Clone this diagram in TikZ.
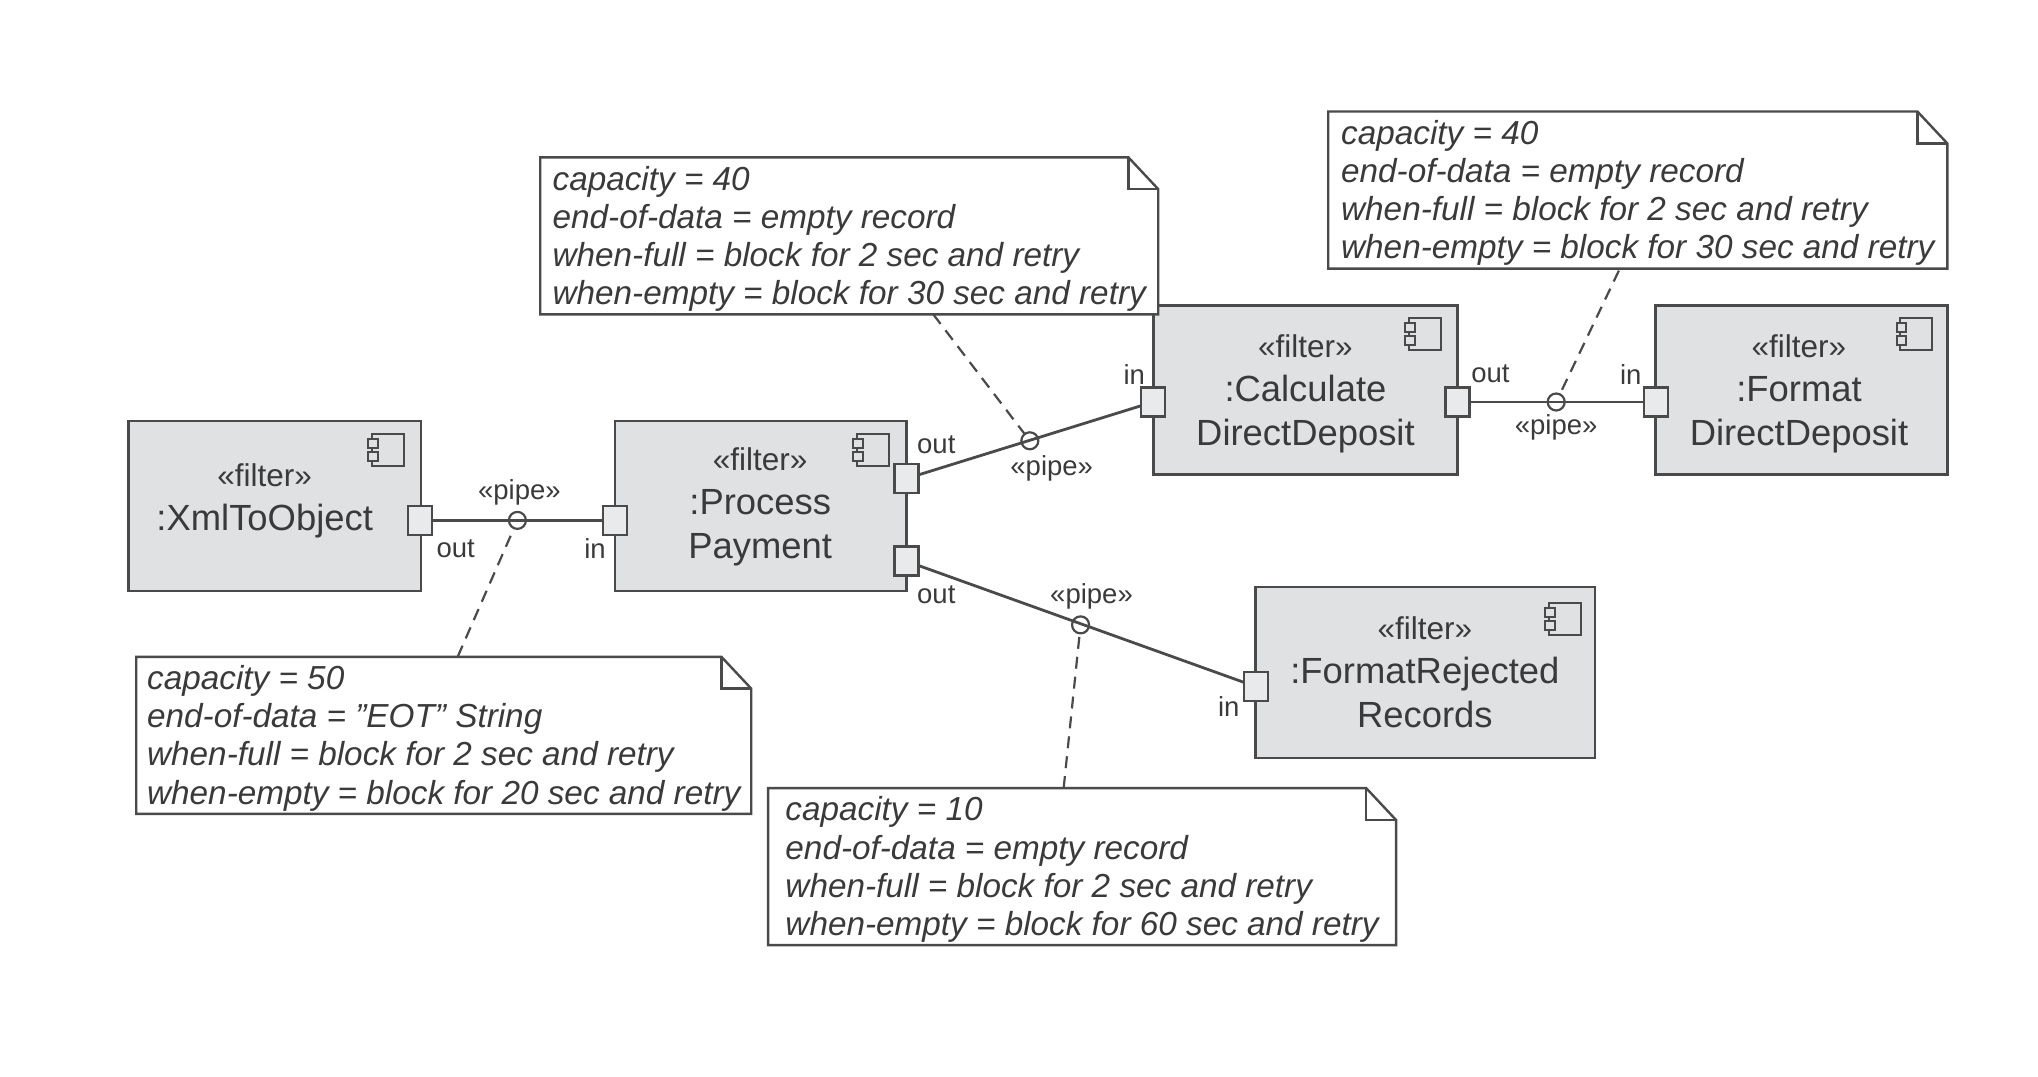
\documentclass[tikz,border=0pt]{standalone}
\usepackage{fontspec}
\setmainfont{Liberation Sans}
\usetikzlibrary{calc,backgrounds}
\definecolor{boxfill}{HTML}{DFE1E3}
\definecolor{ink}{HTML}{4A4A4A}
\definecolor{txt}{HTML}{3A3A3A}
\tikzset{
  filterbox/.style={draw=ink,fill=boxfill,line width=2.6pt,inner sep=0pt,outer sep=0pt},
  filtertext/.style={align=center,text=txt,inner sep=0pt,font=\fontsize{36.4}{44}\selectfont},
  portbox/.style={draw=ink,fill=boxfill!70!white,line width=2.4pt,minimum width=24pt,minimum height=29pt,inner sep=0pt,outer sep=0pt},
  pipedot/.style={draw=ink,circle,line width=2.2pt,minimum size=17pt,inner sep=0pt,outer sep=0pt},
  notebox/.style={fill=white,inner sep=0pt,outer sep=0pt,align=left,text=txt,font=\fontsize{33.3}{38.2}\selectfont\itshape},
  noteline/.style={draw=ink,line width=2.4pt,line join=miter},
  small/.style={text=txt,inner sep=0pt,font=\fontsize{27.5}{30}\selectfont},
  wire/.style={draw=ink,line width=2.8pt},
  tether/.style={draw=ink,line width=2.2pt,dash pattern=on 12pt off 8pt},
  pics/compicon/.style={code={
    \draw[draw=ink,line width=2pt] (0,0) rectangle (32,32);
    \draw[draw=ink,fill=boxfill,line width=2pt] (-4,5) rectangle (6,14);
    \draw[draw=ink,fill=boxfill,line width=2pt] (-4,18) rectangle (6,27);
  }}
}
\newcommand{\notepath}[1]{%
  \draw[noteline] (#1.north west) -- ($(#1.north east)+(-30,0)$) -- ($(#1.north east)+(0,32)$)
    -- (#1.south east) -- (#1.south west) -- cycle;
  \draw[noteline] ($(#1.north east)+(-30,0)$) -- ($(#1.north east)+(-30,32)$) -- ($(#1.north east)+(0,32)$);
}
\newcommand{\st}{\fontsize{31.5}{44}\selectfont}
\newcommand{\nt}{\rule{0pt}{30pt}}
\begin{document}
\begin{tikzpicture}[x=0.995pt,y=-0.995pt]
\useasboundingbox (0,0) rectangle (2048.24,1081.41);

% filter boxes
\node[filterbox,minimum width=292.5pt,minimum height=170pt] (xml) at (276,508.5) {};
\node[filterbox,minimum width=291.5pt,minimum height=170pt] (proc) at (764.5,508.5) {};
\node[filterbox,minimum width=304.5pt,minimum height=169pt] (calc) at (1312,392) {};
\node[filterbox,minimum width=291.5pt,minimum height=169pt] (fmt) at (1810.5,392) {};
\node[filterbox,minimum width=339.5pt,minimum height=171pt] (rej) at (1432.5,676) {};

\node[filtertext] (xmlt) at (266,503.5) {{\st «filter»}\\:XmlToObject};
\node[filtertext] (proct) at (764,509.5) {{\st «filter»}\\:Process\\Payment};
\node[filtertext] (calct) at (1312,395.5) {{\st «filter»}\\:Calculate\\DirectDeposit};
\node[filtertext] (fmtt) at (1808,395.5) {{\st «filter»}\\:Format\\DirectDeposit};
\node[filtertext] (rejt) at (1432,676) {{\st «filter»}\\:FormatRejected\\Records};

% component icons
\pic at (374,436) {compicon};
\pic at (861,436) {compicon};
\pic at (1416,320) {compicon};
\pic at (1910,320) {compicon};
\pic at (1557,606) {compicon};

% ports
\node[portbox] (xmlout) at (422,523) {};
\node[portbox] (procin) at (618,523) {};
\node[portbox] (procouta) at (911,481) {};
\node[portbox] (procoutb) at (911,564) {};
\node[portbox] (calcin) at (1159,404) {};
\node[portbox] (calcout) at (1465,404) {};
\node[portbox] (fmtin) at (1664,404) {};
\node[portbox] (rejin) at (1262,690) {};

% pipe dots
\node[pipedot] (pa) at (520,523) {};
\node[pipedot] (pb) at (1035,443) {};
\node[pipedot] (pc) at (1564,404) {};
\node[pipedot] (pd) at (1086,628) {};

% connectors
\draw[wire] (xmlout) -- (procin);
\draw[wire] (procouta) -- (calcin);
\draw[wire] (calcout) -- (fmtin);
\draw[wire] (procoutb) -- (rejin);

% notes
\coordinate (ta) at (460,660);
\coordinate (tb) at (938,316);
\coordinate (tc) at (1627,272);
\coordinate (td) at (1069,792);
\draw[tether] (ta) -- (pa);
\draw[tether] (tb) -- (pb);
\draw[tether] (tc) -- (pc);
\draw[tether] (td) -- (pd);

\node[notebox,minimum width=615pt,minimum height=157pt] (na) at (446,739) {\nt capacity = 50\\end-of-data = "EOT" String\\when-full = block for 2 sec and retry\\when-empty = block for 20 sec and retry};
\notepath{na}
\node[notebox,minimum width=618pt,minimum height=157pt] (nb) at (853.5,237) {\nt capacity = 40\\end-of-data = empty record\\when-full = block for 2 sec and retry\\when-empty = block for 30 sec and retry};
\notepath{nb}
\node[notebox,minimum width=619pt,minimum height=157pt] (nc) at (1646,191) {\nt capacity = 40\\end-of-data = empty record\\when-full = block for 2 sec and retry\\when-empty = block for 30 sec and retry};
\notepath{nc}
\node[notebox,minimum width=628pt,minimum height=157pt] (nd) at (1087.5,871) {\nt capacity = 10\\end-of-data = empty record\\when-full = block for 2 sec and retry\\when-empty = block for 60 sec and retry};
\notepath{nd}

% port and pipe labels
\node[small] (l1) at (458,551) {out};
\node[small] (l2) at (598,551) {in};
\node[small] (l3) at (941,447) {out};
\node[small] (l4) at (941,598) {out};
\node[small] (l5) at (1140,376) {in};
\node[small] (l6) at (1498,376) {out};
\node[small] (l7) at (1639,376) {in};
\node[small] (l8) at (1235,710) {in};
\node[small] (s1) at (522,495) {«pipe»};
\node[small] (s2) at (1057,471) {«pipe»};
\node[small] (s3) at (1564,430) {«pipe»};
\node[small] (s4) at (1097,599) {«pipe»};
\end{tikzpicture}
\end{document}
